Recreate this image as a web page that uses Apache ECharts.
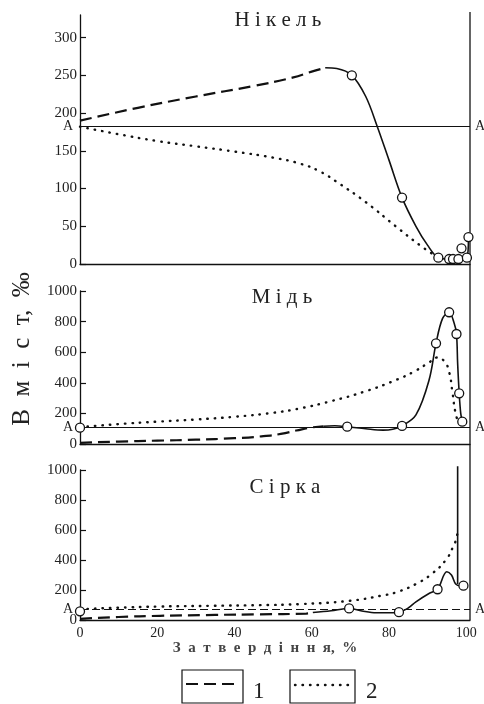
<!DOCTYPE html>
<html>
<head>
<meta charset="utf-8">
<script src="https://cdn.jsdelivr.net/npm/echarts@6/dist/echarts.min.js"></script>
<style>html,body{margin:0;padding:0;background:#fff}#c{width:484px;height:704px}</style>
</head>
<body>
<div id="c"></div>
<script>
// ---- data ----
const xTicks = [0, 20, 40, 60, 80, 100];

// Нікель
const niTicks = [0, 50, 100, 150, 200, 250, 300];
const niA = 182;
const niCalc1 = [[0,190],[15,207],[30,222],[45,236],[55,247],[60,255],[63.5,260]];
const niCalc2 = [[0,182],[10,172],[20,163],[30,156],[40,149],[50,141],[57,133],[62,123],[67,107],[74,82],[82,49],[88,25],[92.8,8.4]];
const niExpLine = [[63.5,260],[66.5,259],[70.4,250],[74,222],[77,182],[80,138],[83.4,88],[87,50],[90,25],[92.8,8.4],[95.6,6.6],[98,6.6],[100.2,8.4],[100.6,35.7]];
const niPts = [[70.4,250],[83.4,88],[92.8,8.4],[95.6,6.6],[96.6,6.6],[98,6.6],[98.8,20.8],[100.2,8.4],[100.6,35.7]];

// Мідь
const cuTicks = [0, 200, 400, 600, 800, 1000];
const cuA = 110;
const cuCalc1 = [[0,8],[10,16],[20,22],[30,28],[40,38],[47,50],[52,66],[56,88],[60,108],[63,116]];
const cuCalc2 = [[0,110],[10,130],[20,146],[30,160],[40,178],[50,204],[57,233],[65,280],[74,345],[82,420],[87,480],[90.5,535],[92.4,565],[94.2,545],[95.5,480],[96.5,330],[97.2,210],[98,150],[98.9,135]];
const cuExpLine = [[63,116],[66,119],[69.2,113],[74,100],[78.5,91],[81,97],[83.4,118],[87,190],[90.4,418],[92.2,658],[93.9,821],[95.6,861],[96.9,789],[97.5,719],[97.8,527],[98.2,331],[98.6,200],[99,146]];
const cuPts = [[0,107],[69.2,113],[83.4,118],[92.2,658],[95.6,861],[97.5,719],[98.2,331],[99,146]];

// Сірка
const sTicks = [0, 200, 400, 600, 800, 1000];
const sA = 72;
const sCalc1 = [[0,8],[10,20],[20.7,28],[35,34],[46.5,38],[58.6,43],[60.3,50]];
const sCalc2 = [[0,72],[10,82],[20.7,90],[35,95],[46.5,99],[57,106],[69.8,128],[78.4,164],[82,186],[87,240],[91.3,312],[94.8,402],[96.5,481],[97.4,537],[97.8,590]];
const sExpLine = [[60.3,50],[65,62],[69.7,77],[73,60],[76.7,48],[80,48],[82.6,52],[85,80],[87,121],[90.6,180],[92.6,205],[95,322],[96.2,300],[97.3,240],[98.5,228],[99.3,229]];
const sSpike = [[97.8,240],[97.8,1025]];
const sPts = [[0,58],[69.7,77],[82.6,52],[92.6,205],[99.3,229]];

// ---- styles ----
const FONT = "'Liberation Serif','DejaVu Serif',serif";
const INK = '#111';
const TXT = '#222';
const grids = [
  {left: 80, width: 390, top: 15, height: 249},
  {left: 80, width: 390, top: 291, height: 153},
  {left: 80, width: 390, top: 470, height: 150}
];

function xAx(i, withLabels) {
  return {
    type: 'value', gridIndex: i, min: 0, max: 101,
    axisLine: {show: true, lineStyle: {color: INK, width: 1.3}},
    axisTick: {show: false},
    splitLine: {show: false},
    axisLabel: withLabels ? {show: true, customValues: xTicks, fontFamily: FONT, fontSize: 14, color: TXT, margin: 6, formatter: v => String(v)} : {show: false}
  };
}
function yAx(i, max, ticks) {
  return {
    type: 'value', gridIndex: i, min: 0, max: max,
    axisLine: {show: true, lineStyle: {color: INK, width: 1.3}},
    axisTick: {show: true, inside: true, length: 6, customValues: ticks, lineStyle: {color: INK, width: 1.2}},
    axisLabel: {show: true, customValues: ticks, fontFamily: FONT, fontSize: 15, color: TXT, margin: 3, formatter: v => String(v)},
    splitLine: {show: false}
  };
}
function aLine(val, dashed) {
  return {
    silent: true, symbol: ['none', 'none'], animation: false,
    lineStyle: {color: INK, width: 1, type: dashed ? [8, 4] : 'solid'},
    data: [
      {yAxis: val, label: {show: true, position: 'start', formatter: 'A', distance: 7, fontFamily: FONT, fontSize: 14, color: TXT}},
      {yAxis: val, label: {show: true, position: 'end', formatter: 'A', distance: 5, fontFamily: FONT, fontSize: 14, color: TXT}}
    ]
  };
}
function calc1(i, data) {
  return {type: 'line', name: '1', xAxisIndex: i, yAxisIndex: i, data: data, smooth: 0.5, symbol: 'none',
    lineStyle: {color: INK, width: 2.2, type: [12, 6]}};
}
function calc2(i, data) {
  return {type: 'line', name: '2', xAxisIndex: i, yAxisIndex: i, data: data, smooth: 0.5, symbol: 'none',
    lineStyle: {color: INK, width: 2.4, type: [0.5, 7], cap: 'round'}};
}
function expLine(i, data, mark) {
  const s = {type: 'line', xAxisIndex: i, yAxisIndex: i, data: data, smooth: 0.35, symbol: 'none',
    lineStyle: {color: INK, width: 1.6}};
  if (mark) s.markLine = mark;
  return s;
}
function pts(i, data) {
  return {type: 'scatter', xAxisIndex: i, yAxisIndex: i, data: data, symbol: 'circle', symbolSize: 9, clip: false, z: 5,
    itemStyle: {color: '#fff', borderColor: INK, borderWidth: 1.3, opacity: 1}};
}

const chart = echarts.init(document.getElementById('c'), null, {renderer: 'canvas'});
const titleStyle = {fontFamily: FONT, fontSize: 21, fontWeight: 'normal', color: TXT};
chart.setOption({
  animation: false,
  backgroundColor: '#fff',
  title: [
    {text: 'Н і к е л ь', left: 273, top: 5, textAlign: 'center', textStyle: titleStyle},
    {text: 'М і д ь', left: 277, top: 282, textAlign: 'center', textStyle: titleStyle},
    {text: 'С і р к а', left: 280, top: 472, textAlign: 'center', textStyle: titleStyle}
  ],
  grid: grids,
  xAxis: [xAx(0, false), xAx(1, false), xAx(2, true)],
  yAxis: [yAx(0, 330, niTicks), yAx(1, 1000, cuTicks), yAx(2, 1000, sTicks)],
  series: [
    calc1(0, niCalc1), calc2(0, niCalc2), expLine(0, niExpLine, aLine(niA, false)), pts(0, niPts),
    calc1(1, cuCalc1), calc2(1, cuCalc2), expLine(1, cuExpLine, aLine(cuA, false)), pts(1, cuPts),
    calc1(2, sCalc1), calc2(2, sCalc2), expLine(2, sExpLine, aLine(sA, true)),
    {type: 'line', xAxisIndex: 2, yAxisIndex: 2, data: sSpike, symbol: 'none', clip: false, lineStyle: {color: INK, width: 1.6}},
    pts(2, sPts)
  ]
});

// frame line on the right, spanning all three panels
const pTop = chart.convertToPixel({xAxisIndex: 0, yAxisIndex: 0}, [101, 330]);
const pBot = chart.convertToPixel({xAxisIndex: 2, yAxisIndex: 2}, [101, 0]);
chart.setOption({
  graphic: [
    {type: 'line', shape: {x1: pTop[0], y1: pTop[1] - 3, x2: pBot[0], y2: pBot[1]}, style: {stroke: INK, lineWidth: 1.3}, silent: true},
    {type: 'text', x: 22, y: 349, rotation: Math.PI / 2,
      style: {text: 'В\u2002м\u2002і\u2002с\u2002т,\u2002‰', font: "25px 'Liberation Serif','DejaVu Serif',serif", fill: TXT, align: 'center', verticalAlign: 'middle'}},
    {type: 'text', x: 265, y: 648,
      style: {text: 'З\u2002а\u2002т\u2002в\u2002е\u2002р\u2002д\u2002і\u2002н\u2002н\u2002я,\u2002%', font: "bold 15px 'Liberation Serif','DejaVu Serif',serif", fill: '#444', align: 'center', verticalAlign: 'middle'}},
    // legend
    {type: 'rect', shape: {x: 182, y: 670, width: 61, height: 33}, style: {fill: 'none', stroke: INK, lineWidth: 1.2}},
    {type: 'line', shape: {x1: 186, y1: 684, x2: 239, y2: 684}, style: {stroke: INK, lineWidth: 2.2, lineDash: [12, 6]}},
    {type: 'text', x: 253, y: 692, style: {text: '1', font: "23px 'Liberation Serif','DejaVu Serif',serif", fill: TXT, align: 'left', verticalAlign: 'middle'}},
    {type: 'rect', shape: {x: 290, y: 670, width: 65, height: 33}, style: {fill: 'none', stroke: INK, lineWidth: 1.2}},
    {type: 'line', shape: {x1: 295, y1: 685, x2: 351, y2: 685}, style: {stroke: INK, lineWidth: 2.4, lineDash: [0.5, 7], lineCap: 'round'}},
    {type: 'text', x: 366, y: 692, style: {text: '2', font: "23px 'Liberation Serif','DejaVu Serif',serif", fill: TXT, align: 'left', verticalAlign: 'middle'}}
  ]
});
</script>
</body>
</html>
